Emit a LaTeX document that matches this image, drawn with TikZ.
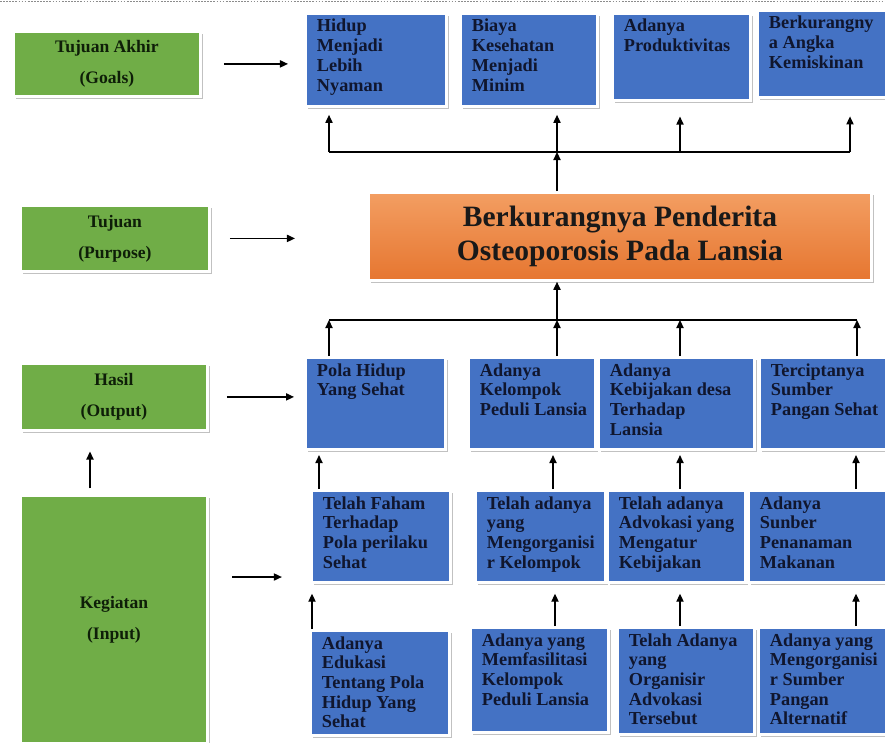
\documentclass[tikz,border=0pt]{standalone}
\usepackage{fontspec}
\setmainfont{Liberation Serif}
\usepackage{tikz}
\usetikzlibrary{arrows.meta,shadows}
\definecolor{lfblue}{RGB}{68,114,196}
\definecolor{lfgreen}{RGB}{112,173,71}
\definecolor{lforange}{RGB}{243,158,98}
\definecolor{lforangelt}{RGB}{250,198,152}
\definecolor{lforangedk}{RGB}{230,118,48}
\definecolor{lfink}{RGB}{16,22,46}
\definecolor{lfgreenink}{RGB}{14,30,8}
\tikzset{
  box/.style 2 args={anchor=north west, minimum width=#1, minimum height=#2, draw=white, line width=2pt, inner sep=0pt,
    drop shadow={shadow xshift=1.8pt, shadow yshift=-1.8pt, fill=black!30, opacity=0.8}},
  lvl/.style 2 args={box={#1}{#2}, fill=lfgreen, text=lfgreenink, align=center, font=\fontsize{12.5}{15}\selectfont\bfseries},
  blk/.style 2 args={box={#1}{#2}, fill=lfblue},
  txt/.style={anchor=north west, align=left, inner xsep=9pt, inner ysep=5pt, text=lfink, font=\fontsize{13}{14}\selectfont\bfseries},
  arr/.style={-{Triangle[length=2mm,width=1.8mm]}, line width=0.9pt},
  bus/.style={line width=0.9pt},
}

\begin{document}
\begin{tikzpicture}[x=0.025cm, y=-0.025cm]
\useasboundingbox (0,0) rectangle (885,742);
\clip (0,0) rectangle (885,742);
% Top border
\draw[black!45, densely dotted, line width=1.2pt] (0,1.5) -- (885,1.5);
% Levels
\node[lvl={4.675cm}{1.625cm}] (t1) at (12,30) {Tujuan Akhir\\[7pt](Goals)};
\node[lvl={4.725cm}{1.65cm}] (t2) at (19,204) {Tujuan\\[7pt](Purpose)};
\node[lvl={4.675cm}{1.675cm}] (t3) at (19,362) {Hasil\\[7pt](Output)};
\node[lvl={4.675cm}{6.2cm}] (t4) at (19,494) {Kegiatan\\[7pt](Input)};
% Goals
\node[blk={3.525cm}{2.325cm}, label={[txt]north west:{Hidup\\Menjadi\\Lebih\\Nyaman}}] (g1) at (304,12) {};
\node[blk={3.425cm}{2.325cm}, label={[txt]north west:{Biaya\\Kesehatan\\Menjadi\\Minim}}] (g2) at (459,12) {};
\node[blk={3.45cm}{2.175cm}, label={[txt]north west:{Adanya\\Produktivitas}}] (g3) at (611,12) {};
\node[blk={3.5cm}{2.175cm}, label={[txt]north west:{Berkurangny\\a Angka\\Kemiskinan}}] (g4) at (756,9) {};
% Purpose
\node[box={12.575cm}{2.2cm}, top color=lforange, middle color=lforangelt, bottom color=lforangedk,
  align=center, text=black!90, font=\fontsize{21}{24}\selectfont\bfseries] (og) at (367,191)
  {Berkurangnya Penderita\\Osteoporosis Pada Lansia};
% Output
\node[blk={3.5cm}{2.3cm}, label={[txt]north west:{Pola Hidup\\Yang Sehat}}] (o1) at (304,356) {};
\node[blk={3.175cm}{2.3cm}, label={[txt]north west:{Adanya\\Kelompok\\Peduli Lansia}}] (o2) at (467,356) {};
\node[blk={3.9cm}{2.3cm}, label={[txt]north west:{Adanya\\Kebijakan desa\\Terhadap\\Lansia}}] (o3) at (597,356) {};
\node[blk={3.375cm}{2.3cm}, label={[txt]north west:{Terciptanya\\Sumber\\Pangan Sehat}}] (o4) at (758,356) {};
% Input, first row
\node[blk={3.475cm}{2.3cm}, label={[txt]north west:{Telah Faham\\Terhadap\\Pola perilaku\\Sehat}}] (m1) at (310,489) {};
\node[blk={3.25cm}{2.3cm}, label={[txt]north west:{Telah adanya\\yang\\Mengorganisi\\r Kelompok}}] (m2) at (474,489) {};
\node[blk={3.45cm}{2.3cm}, label={[txt]north west:{Telah adanya\\Advokasi yang\\Mengatur\\Kebijakan}}] (m3) at (606,489) {};
\node[blk={3.625cm}{2.3cm}, label={[txt]north west:{Adanya\\Sunber\\Penanaman\\Makanan}}] (m4) at (747,489) {};
% Input, second row
\node[blk={3.475cm}{2.625cm}, label={[txt]north west:{Adanya\\Edukasi\\Tentang Pola\\Hidup Yang\\Sehat}}] (b1) at (309,629) {};
\node[blk={3.45cm}{2.625cm}, label={[txt]north west:{Adanya yang\\Memfasilitasi\\Kelompok\\Peduli Lansia}}] (b2) at (469,626) {};
\node[blk={3.425cm}{2.675cm}, label={[txt]north west:{Telah Adanya\\yang\\Organisir\\Advokasi\\Tersebut}}] (b3) at (616,626) {};
\node[blk={3.375cm}{2.675cm}, label={[txt]north west:{Adanya yang\\Mengorganisi\\r Sumber\\Pangan\\Alternatif}}] (b4) at (757,626) {};
% Bus points and arrow columns
\coordinate (tb1) at (329,152); \coordinate (tb2) at (557,152);
\coordinate (tb3) at (680,152); \coordinate (tb4) at (850,152);
\coordinate (mb1) at (329,320); \coordinate (mb2) at (557,320);
\coordinate (mb3) at (680,320); \coordinate (mb4) at (857,320);
\coordinate (ca1) at (319,470); \coordinate (ca2) at (553,470);
\coordinate (ca3) at (680,470); \coordinate (ca4) at (856,470);
\coordinate (cb1) at (312,605); \coordinate (cb2) at (555,605);
\coordinate (cb3) at (680,605); \coordinate (cb4) at (856,605);
\coordinate (kx) at (90,470); \coordinate (kin) at (232,577);
% Purpose to goals
\draw[arr] (tb2 |- og.north) -- (tb2);
\draw[bus] (tb1) -- (tb4);
\draw[arr, shorten >=5pt] (tb1) -- (tb1 |- g1.south);
\draw[arr, shorten >=5pt] (tb2) -- (tb2 |- g2.south);
\draw[arr, shorten >=10.5pt] (tb3) -- (tb3 |- g3.south);
\draw[arr, shorten >=12.5pt] (tb4) -- (tb4 |- g4.south);
% Output to purpose
\draw[arr] (mb2) -- (mb2 |- og.south);
\draw[bus] (mb1) -- (mb4);
\draw[arr] (mb1 |- o1.north) -- (mb1);
\draw[arr] (mb2 |- o2.north) -- (mb2);
\draw[arr] (mb3 |- o3.north) -- (mb3);
\draw[arr] (mb4 |- o4.north) -- (mb4);
% Input to output
\draw[arr, shorten >=3pt] (ca1 |- m1.north) -- (ca1 |- o1.south);
\draw[arr, shorten >=3pt] (ca2 |- m2.north) -- (ca2 |- o2.south);
\draw[arr, shorten >=3pt] (ca3 |- m3.north) -- (ca3 |- o3.south);
\draw[arr, shorten >=3pt] (ca4 |- m4.north) -- (ca4 |- o4.south);
\draw[arr, shorten >=7pt] (cb1 |- b1.north) -- (cb1 |- m1.south);
\draw[arr, shorten >=7pt] (cb2 |- b2.north) -- (cb2 |- m2.south);
\draw[arr, shorten >=7pt] (cb3 |- b3.north) -- (cb3 |- m3.south);
\draw[arr, shorten >=7pt] (cb4 |- b4.north) -- (cb4 |- m4.south);
% Level arrows
\draw[arr] ([xshift=0.55cm]t1.east) -- ([xshift=-0.4cm]t1.east -| g1.west);
\draw[arr] ([xshift=0.475cm]t2.east) -- ([xshift=-1.8cm]t2.east -| og.west);
\draw[arr] ([xshift=0.45cm]t3.east) -- ([xshift=-0.25cm]t3.east -| o1.west);
\draw[arr, shorten >=20pt] (kin) -- (kin -| m1.west);
\draw[arr, shorten <=4pt, shorten >=14pt] (kx |- t4.north) -- (kx |- t3.south);
\end{tikzpicture}
\end{document}
